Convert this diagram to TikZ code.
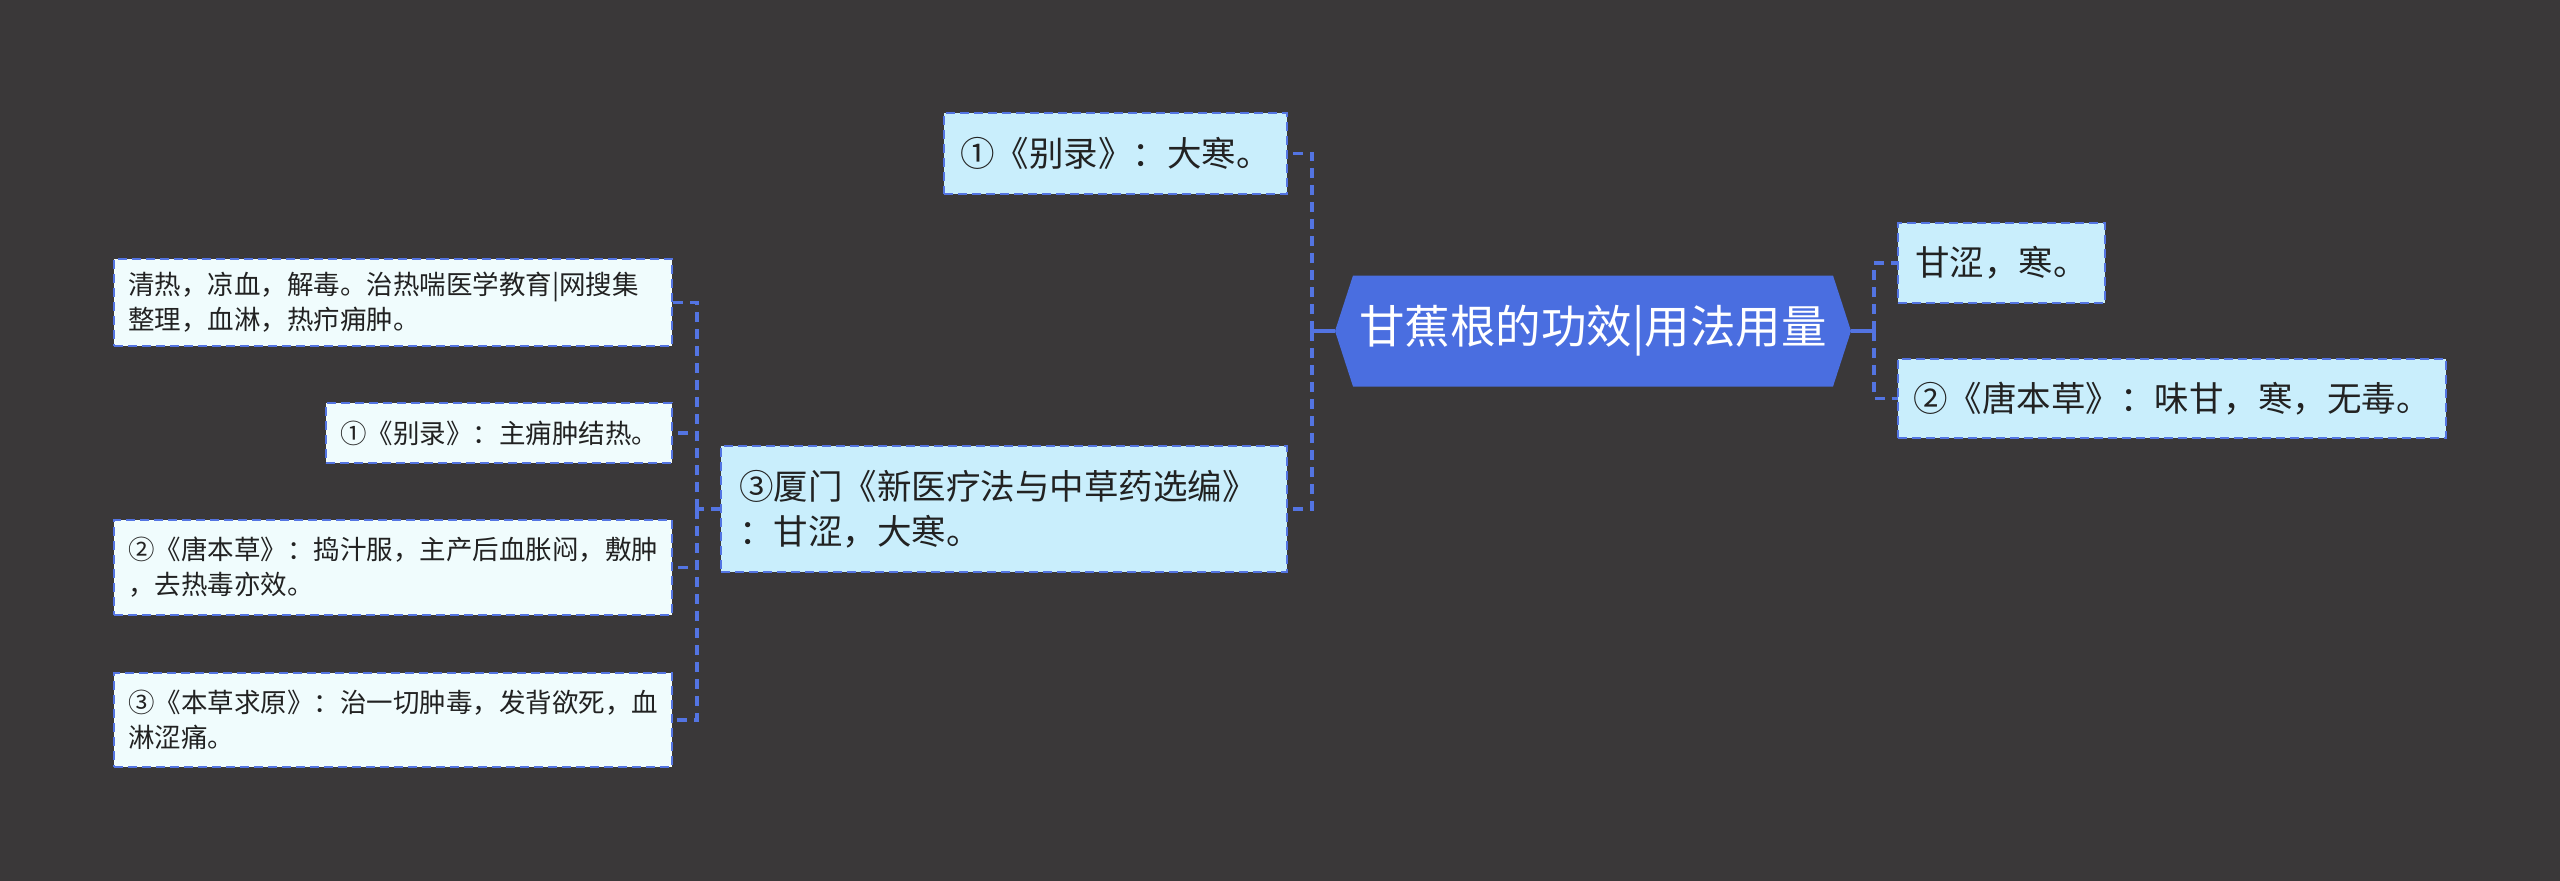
\documentclass[tikz,border=0pt]{standalone}
\usepackage{fontspec}
\newfontfamily\cjk{Noto Sans CJK SC}
\usetikzlibrary{backgrounds}
\definecolor{bg}{HTML}{3A3839}
\definecolor{hub}{HTML}{4A6EE0}
\definecolor{lnk}{HTML}{5374E2}
\definecolor{lvA}{HTML}{C9EEFC}
\definecolor{lvB}{HTML}{F0FCFD}
\definecolor{ink}{HTML}{222222}
\begin{document}
\begin{tikzpicture}[x=1pt,y=-1pt,
  box/.style={draw=lnk, line width=2.5pt, dash pattern=on 9pt off 5pt, text=ink, inner ysep=0pt, outer sep=0pt, anchor=center},
  lvone/.style={box, fill=lvA, font=\cjk\fontsize{34.5pt}{45pt}\selectfont},
  lvtwo/.style={box, fill=lvB, font=\cjk\fontsize{26.5pt}{35pt}\selectfont},
  hubnode/.style={text=white, inner sep=0pt, outer sep=0pt, font=\cjk\fontsize{45.5pt}{50pt}\selectfont},
  link/.style={draw=lnk, line width=3.5pt, dash pattern=on 10pt off 7pt},
  stem/.style={draw=lnk, line width=3.5pt}]
\useasboundingbox (0,0) rectangle (2560,881);

% central topic
\node[hubnode, minimum width=516pt, minimum height=111pt] (c) at (1593,331) {甘蕉根的功效|用法用量};

% right branch
\node[lvone, minimum width=207pt, minimum height=80pt, inner xsep=0pt] (r1) at (2001.5,263) {甘涩，寒。};
\node[lvone, minimum width=548pt, minimum height=79pt, inner xsep=0pt] (r2) at (2172,398.5) {②《唐本草》：味甘，寒，无毒。};

% left level one
\node[lvone, minimum width=343pt, minimum height=81pt, inner xsep=0pt] (a) at (1115.5,153.5) {①《别录》：大寒。};
\node[lvone, minimum width=566pt, minimum height=126pt, text width=530pt, inner xsep=18pt, align=left] (b) at (1004,509) {③厦门《新医疗法与中草药选编》\\：甘涩，大寒。};

% left level two
\node[lvtwo, minimum width=558pt, minimum height=87pt, text width=530pt, inner xsep=14pt, align=left] (l1) at (393,302.5) {清热，凉血，解毒。治热喘医学教育|网搜集\\整理，血淋，热疖痈肿。};
\node[lvtwo, minimum width=346pt, minimum height=60pt, inner xsep=0pt] (l2) at (499,433) {①《别录》：主痈肿结热。};
\node[lvtwo, minimum width=558pt, minimum height=95pt, text width=530pt, inner xsep=14pt, align=left] (l3) at (393,567.5) {②《唐本草》：捣汁服，主产后血胀闷，敷肿\\，去热毒亦效。};
\node[lvtwo, minimum width=558pt, minimum height=94pt, text width=530pt, inner xsep=14pt, align=left] (l4) at (393,720) {③《本草求原》：治一切肿毒，发背欲死，血\\淋涩痛。};

% junctions
\coordinate (jr) at (1874,331);
\coordinate (jl) at (1312,331);
\coordinate (jm) at (697,509);

\draw[stem] (c.east) -- (jr);
\draw[link] (jr) |- (r1.west);
\draw[link] (jr) |- (r2.west);

\draw[stem] (c.west) -- (jl);
\draw[link] (jl) |- (a.east);
\draw[link] (jl) |- (b.east);

\draw[link] (b.west) -- (jm);
\draw[link] (jm) |- (l1.east);
\draw[link] (jm) |- (l2.east);
\draw[link] (jm) |- (l3.east);
\draw[link] (jm) |- (l4.east);

\begin{scope}[on background layer]
\fill[bg] (0,0) rectangle (2560,881);
\fill[hub] (c.west) -- ([xshift=18pt]c.north west) -- ([xshift=-18pt]c.north east) -- (c.east) -- ([xshift=-18pt]c.south east) -- ([xshift=18pt]c.south west) -- cycle;
\end{scope}
\end{tikzpicture}
\end{document}
